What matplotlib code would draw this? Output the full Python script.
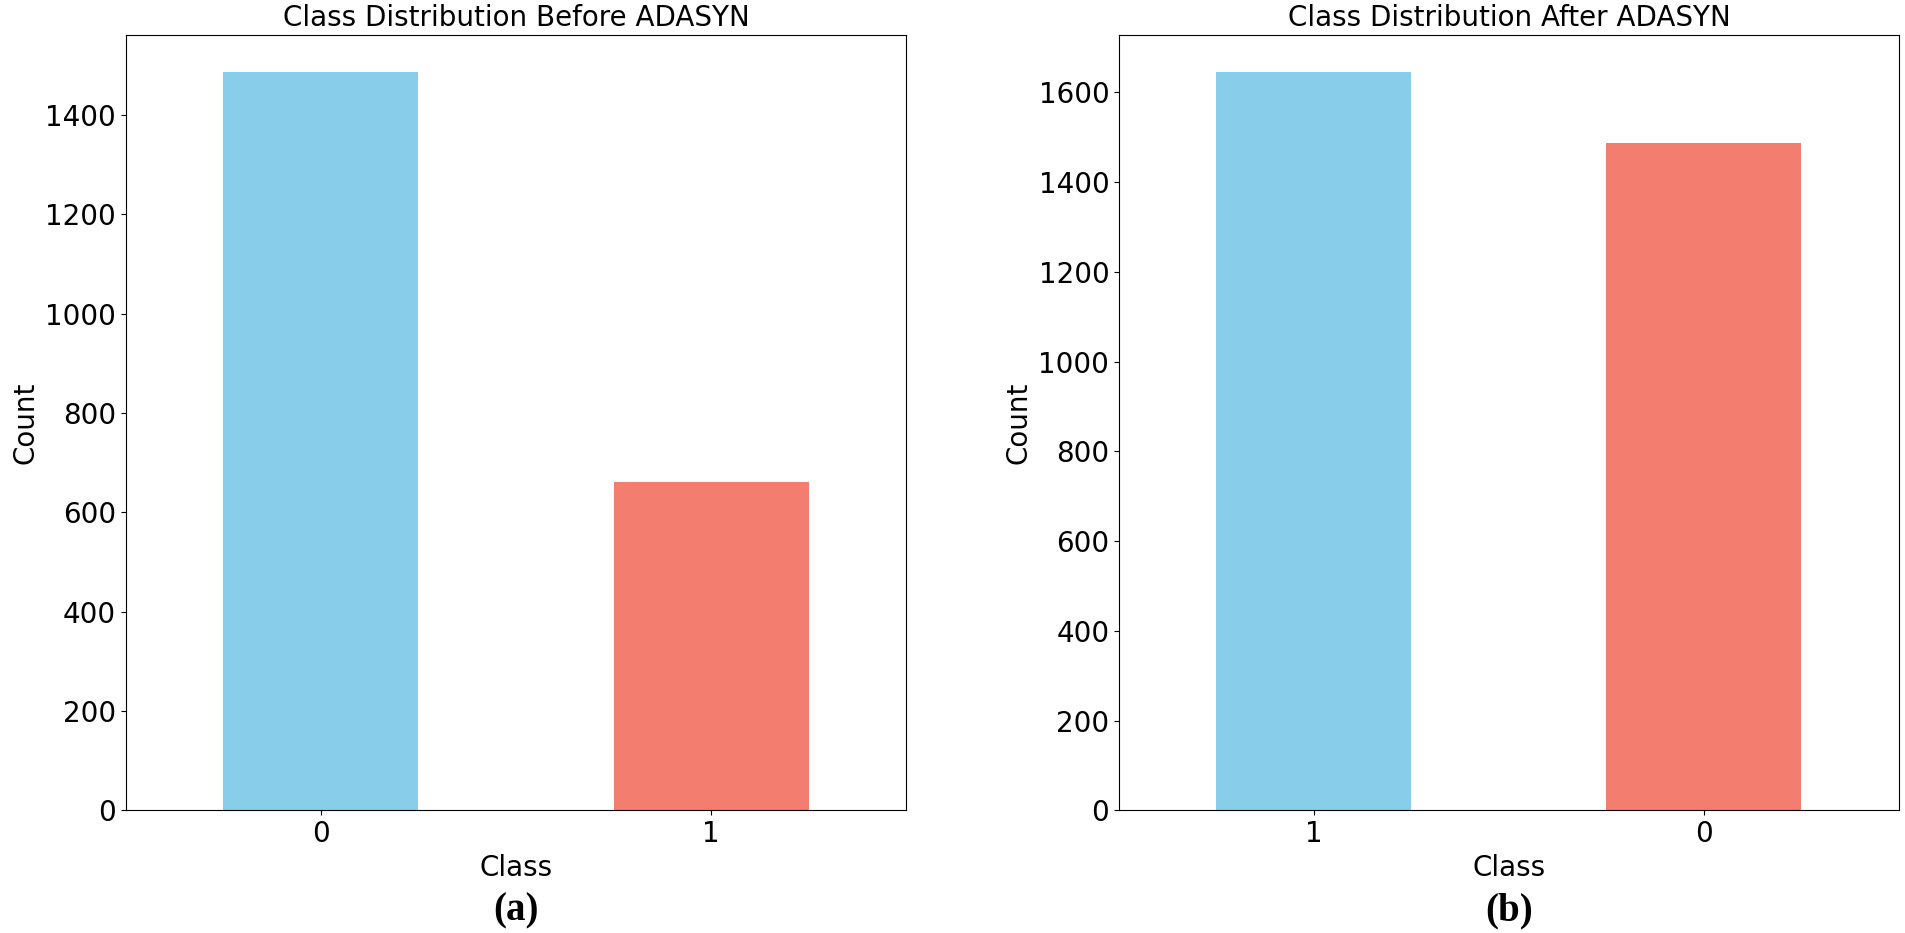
import matplotlib
matplotlib.use("Agg")
import matplotlib.pyplot as plt

before_classes = ["0", "1"]
before_counts = [1487, 661]
after_classes = ["1", "0"]
after_counts = [1646, 1487]
bar_colors = ["#88CDE9", "#F37E70"]
titles = ["Class Distribution Before ADASYN", "Class Distribution After ADASYN"]
panel_labels = ["(a)", "(b)"]

fig = plt.figure(figsize=(19.05, 9.33), dpi=100)
ax1 = fig.add_axes([0.066, 0.1314, 0.4097, 0.8314])
ax2 = fig.add_axes([0.5874, 0.1314, 0.4094, 0.8314])

for ax, cats, vals, title, lab in [
    (ax1, before_classes, before_counts, titles[0], panel_labels[0]),
    (ax2, after_classes, after_counts, titles[1], panel_labels[1]),
]:
    x = list(range(len(cats)))
    ax.bar(x, vals, width=0.5, color=bar_colors)
    ax.set_xlim(-0.5, len(cats) - 0.5)
    ax.set_xticks(x)
    ax.set_xticklabels(cats)
    ax.tick_params(labelsize=20)
    ax.set_title(title, fontsize=20)
    ax.set_xlabel("Class", fontsize=20)
    ax.set_ylabel("Count", fontsize=20)
    ax.text(0.5, -0.13, lab, transform=ax.transAxes, ha="center", va="center",
            fontsize=28, fontweight="bold", family="Liberation Serif")

fig.savefig("out.png", dpi=100)
